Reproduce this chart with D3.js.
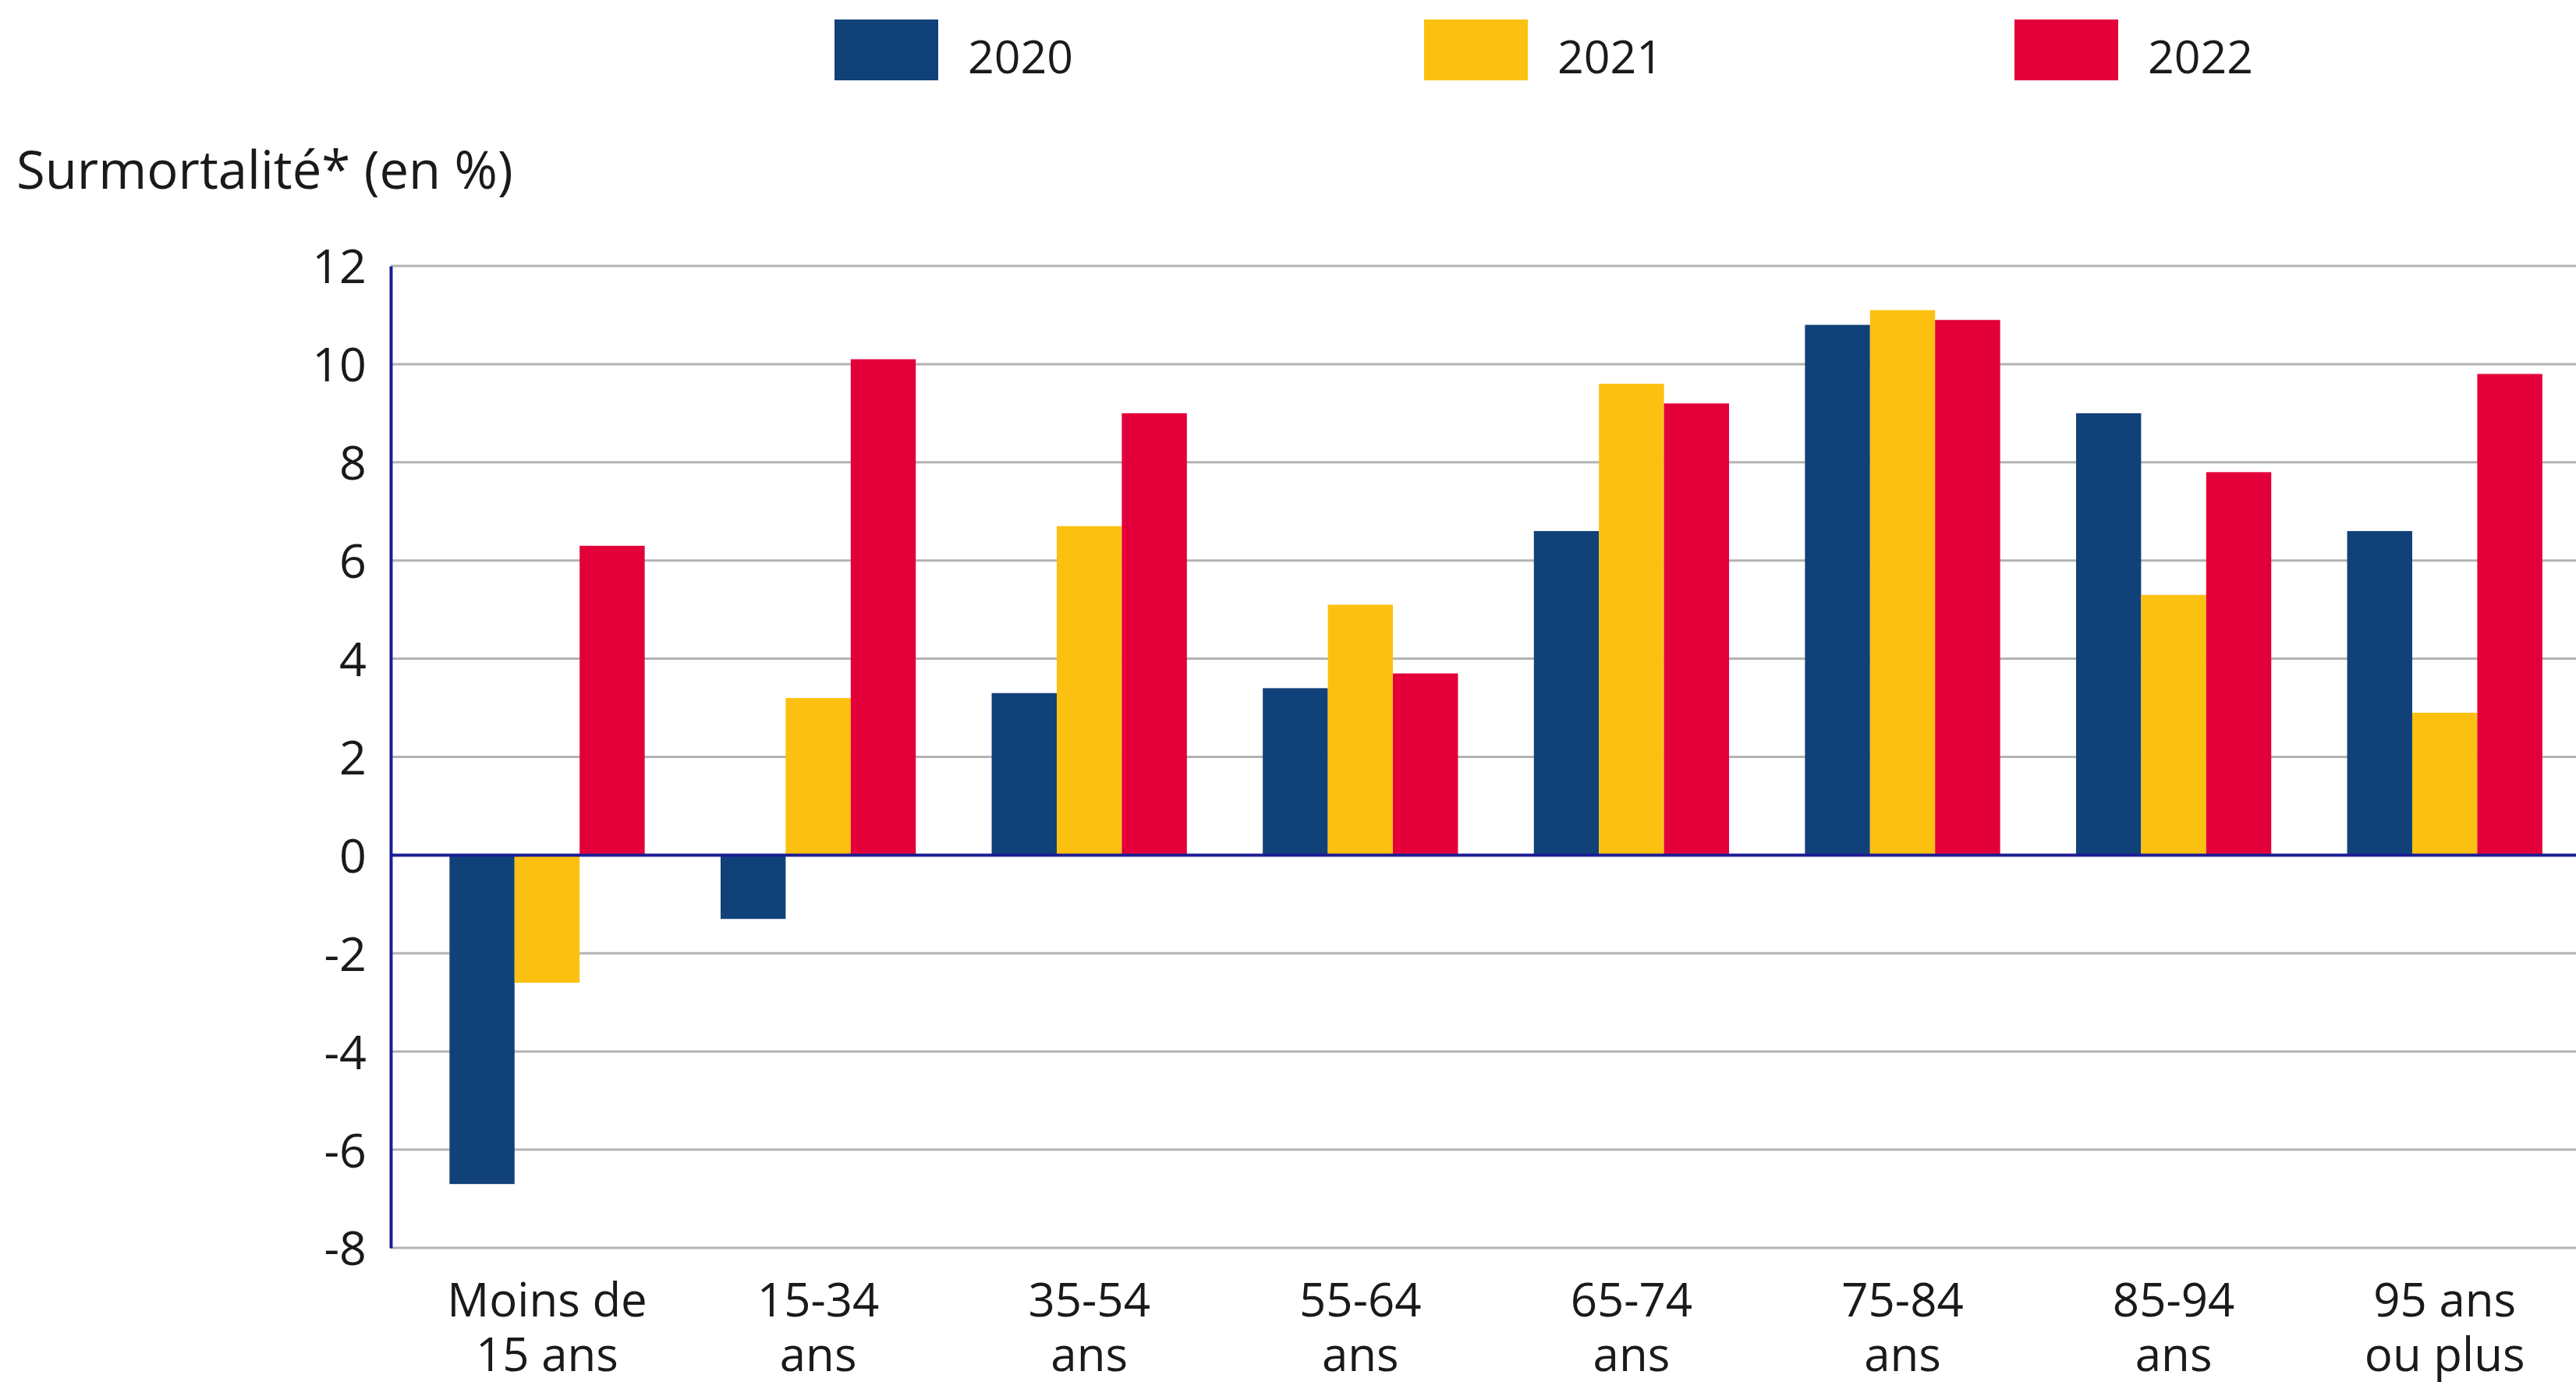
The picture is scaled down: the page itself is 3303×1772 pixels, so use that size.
<!DOCTYPE html>
<html>
<head>
<meta charset="utf-8">
<script src="https://cdn.jsdelivr.net/npm/d3@7"></script>
<style>
  body { margin: 0; background: #fff; }
  svg text { font-family: "Open Sans", sans-serif; fill: #1a1a1a; }
</style>
</head>
<body>
<div id="chart"></div>
<script>

// data
const categories = ["Moins de|15 ans", "15-34|ans", "35-54|ans", "55-64|ans",
                    "65-74|ans", "75-84|ans", "85-94|ans", "95 ans|ou plus"];
const years = ["2020", "2021", "2022"];
const values2020 = [-6.7, -1.3, 3.3, 3.4, 6.6, 10.8, 9.0, 6.6];
const values2021 = [-2.6, 3.2, 6.7, 5.1, 9.6, 11.1, 5.3, 2.9];
const values2022 = [6.3, 10.1, 9.0, 3.7, 9.2, 10.9, 7.8, 9.8];
const yTicks = [-8, -6, -4, -2, 0, 2, 4, 6, 8, 10, 12];
const colors = ["#114179", "#fcc110", "#e3003a"];

const width = 3303;
const height = 1772;
const margin = {left: 501, right: 0, top: 341, bottom: 172};

const svg = d3.select("#chart")
  .append("svg")
  .attr("width", width)
  .attr("height", height);

// rows for the grouped bars
const rows = categories.map((c, i) => ({
  cat: c,
  vals: [values2020[i], values2021[i], values2022[i]]
}));

// scales
const yScale = d3.scaleLinear()
  .domain([-8, 12])
  .range([height - margin.bottom, margin.top]);

const xScale = d3.scaleBand()
  .domain(categories)
  .range([527.7, 3308.5])
  .paddingInner(0.28)
  .paddingOuter(0.14);

const xSub = d3.scaleBand()
  .domain(years)
  .range([0, xScale.bandwidth()]);

const color = d3.scaleOrdinal().domain(years).range(colors);

// gridlines
svg.append("g")
  .selectAll("line")
  .data(yTicks.filter(t => t !== 0))
  .enter()
  .append("line")
    .attr("x1", margin.left)
    .attr("x2", width)
    .attr("y1", d => yScale(d))
    .attr("y2", d => yScale(d))
    .attr("stroke", "#b3b3b3")
    .attr("stroke-width", 3);

// bars
const groups = svg.append("g")
  .selectAll("g")
  .data(rows)
  .enter()
  .append("g")
    .attr("transform", d => `translate(${xScale(d.cat)},0)`);

groups.selectAll("rect")
  .data(d => d.vals.map((v, j) => ({year: years[j], v: v})))
  .enter()
  .append("rect")
    .attr("x", d => xSub(d.year))
    .attr("width", xSub.bandwidth())
    .attr("y", d => yScale(Math.max(0, d.v)))
    .attr("height", d => Math.abs(yScale(d.v) - yScale(0)))
    .attr("fill", d => color(d.year));

// zero line
svg.append("line")
  .attr("x1", margin.left)
  .attr("x2", width)
  .attr("y1", yScale(0))
  .attr("y2", yScale(0))
  .attr("stroke", "#1c1c96")
  .attr("stroke-width", 4);

// y axis (plain hyphen for negatives, like the original)
const yAxis = svg.append("g")
  .attr("transform", `translate(${margin.left},0)`)
  .call(d3.axisLeft(yScale).tickValues(yTicks).tickSize(0).tickPadding(31)
          .tickFormat(d => String(d)));
yAxis.select(".domain").attr("stroke", "#1c1c96").attr("stroke-width", 4);
yAxis.selectAll("text")
  .attr("font-size", "61px")
  .attr("font-family", "Open Sans")
  .attr("fill", "#1a1a1a")
  .attr("dy", "0.36em");

// x axis labels (two lines each)
const xAxis = svg.append("g")
  .attr("transform", `translate(0,${height - margin.bottom})`)
  .call(d3.axisBottom(xScale).tickSize(0).tickFormat(""));
xAxis.select(".domain").remove();
xAxis.selectAll(".tick").each(function(d) {
  const lines = d.split("|");
  d3.select(this).selectAll("text.lbl")
    .data(lines)
    .enter()
    .append("text")
      .attr("class", "lbl")
      .attr("text-anchor", "middle")
      .attr("font-size", "60px")
      .attr("fill", "#1a1a1a")
      .attr("x", 0)
      .attr("y", (l, i) => 88 + i * 70)
      .text(l => l);
});

// title
svg.append("text")
  .attr("x", 21)
  .attr("y", 242)
  .attr("font-size", "67px")
  .text("Surmortalité* (en %)");

// legend
const legendX = [1070, 1826, 2583];
const legend = svg.append("g")
  .selectAll("g")
  .data(years)
  .enter()
  .append("g")
    .attr("transform", (d, i) => `translate(${legendX[i]},25)`);
legend.append("rect")
  .attr("width", 133)
  .attr("height", 78)
  .attr("fill", d => color(d));
legend.append("text")
  .attr("x", 171)
  .attr("y", 69)
  .attr("font-size", "59px")
  .text(d => d);

</script>
</body>
</html>
